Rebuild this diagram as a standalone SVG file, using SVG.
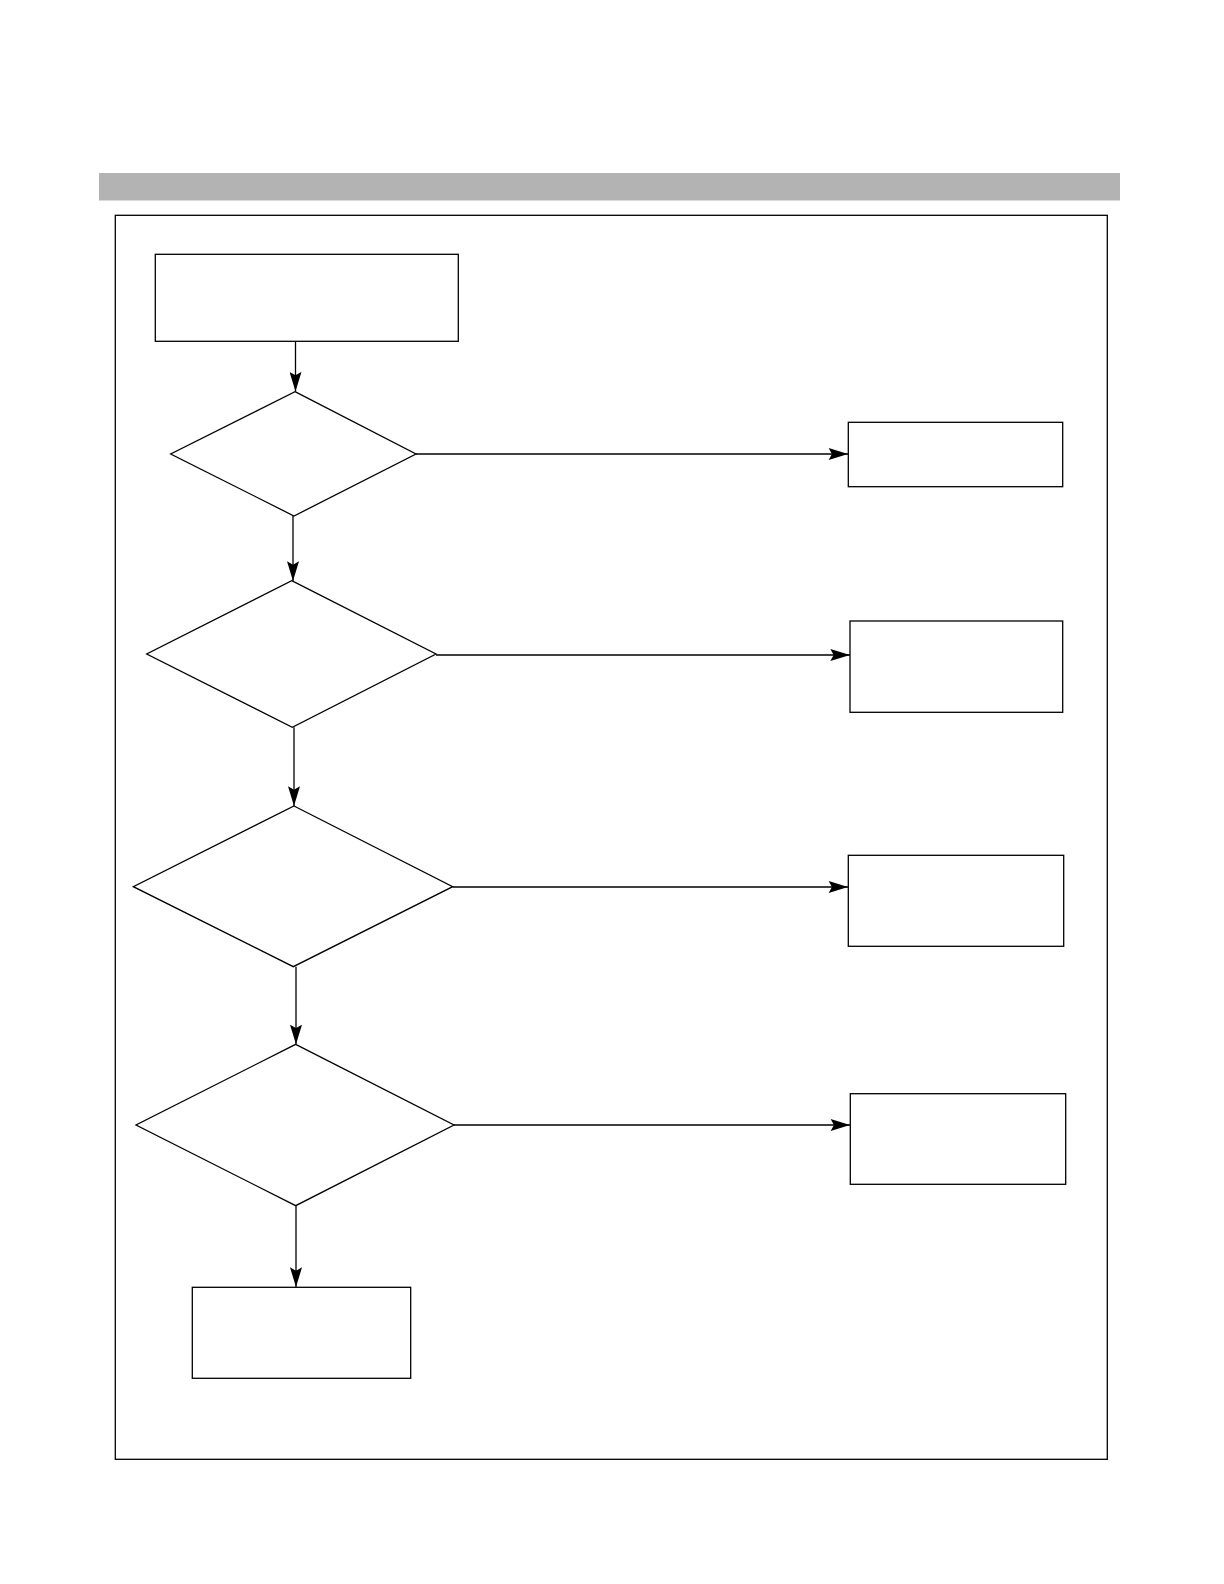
<svg xmlns="http://www.w3.org/2000/svg" width="1224" height="1584" viewBox="0 0 1224 1584">
<style>
.shape{fill:#ffffff;stroke:#000000;stroke-width:1.3}
.conn{fill:none;stroke:#000000;stroke-width:1.3;marker-end:url(#arrow)}
</style>
<defs>
<marker id="arrow" markerUnits="userSpaceOnUse" markerWidth="20" markerHeight="12" viewBox="0 0 18 11" refX="18" refY="5.5" orient="auto">
<path d="M0,0 L18,5.5 L0,11 L3,5.5 Z" fill="#000000"/>
</marker>
</defs>
<rect x="0" y="0" width="1224" height="1584" fill="#ffffff"/>
<rect id="header-bar" x="99" y="173" width="1021" height="27.5" fill="#b3b3b3"/>
<rect id="frame" x="115.3" y="215.3" width="992" height="1244" fill="none" stroke="#000000" stroke-width="1.3"/>
<g id="connectors">
<line class="conn" x1="295.5" y1="341.3" x2="295.5" y2="391.5"/>
<line class="conn" x1="293" y1="516" x2="293" y2="581"/>
<line class="conn" x1="294" y1="727.3" x2="294" y2="806"/>
<line class="conn" x1="296" y1="966.7" x2="296" y2="1044.3"/>
<line class="conn" x1="296" y1="1205.7" x2="296" y2="1287"/>
<line class="conn" x1="416" y1="454" x2="848.3" y2="454"/>
<line class="conn" x1="436" y1="655" x2="850" y2="655"/>
<line class="conn" x1="452.7" y1="887" x2="848.3" y2="887"/>
<line class="conn" x1="454" y1="1125" x2="850.3" y2="1125"/>
</g>
<g id="start-box"><rect class="shape" x="155.3" y="254.3" width="303" height="87"/></g>
<g id="decision-1"><polygon class="shape" points="295,391.7 416,454 294,516 170.7,454"/></g>
<g id="decision-2"><polygon class="shape" points="291.7,580.7 436,654 292.3,727.3 146.7,654"/></g>
<g id="decision-3"><polygon class="shape" points="294,806 452.7,886.7 293.3,966.7 133.3,886.7"/></g>
<g id="decision-4"><polygon class="shape" points="295.7,1044.3 454,1125 295.7,1205.7 136,1125"/></g>
<g id="result-1"><rect class="shape" x="848.3" y="422.3" width="214.4" height="64.4"/></g>
<g id="result-2"><rect class="shape" x="850" y="621" width="212.7" height="91.3"/></g>
<g id="result-3"><rect class="shape" x="848.3" y="855.3" width="215.4" height="91"/></g>
<g id="result-4"><rect class="shape" x="850.3" y="1093.7" width="215.4" height="90.6"/></g>
<g id="end-box"><rect class="shape" x="192.3" y="1287.3" width="218.4" height="91"/></g>
</svg>
